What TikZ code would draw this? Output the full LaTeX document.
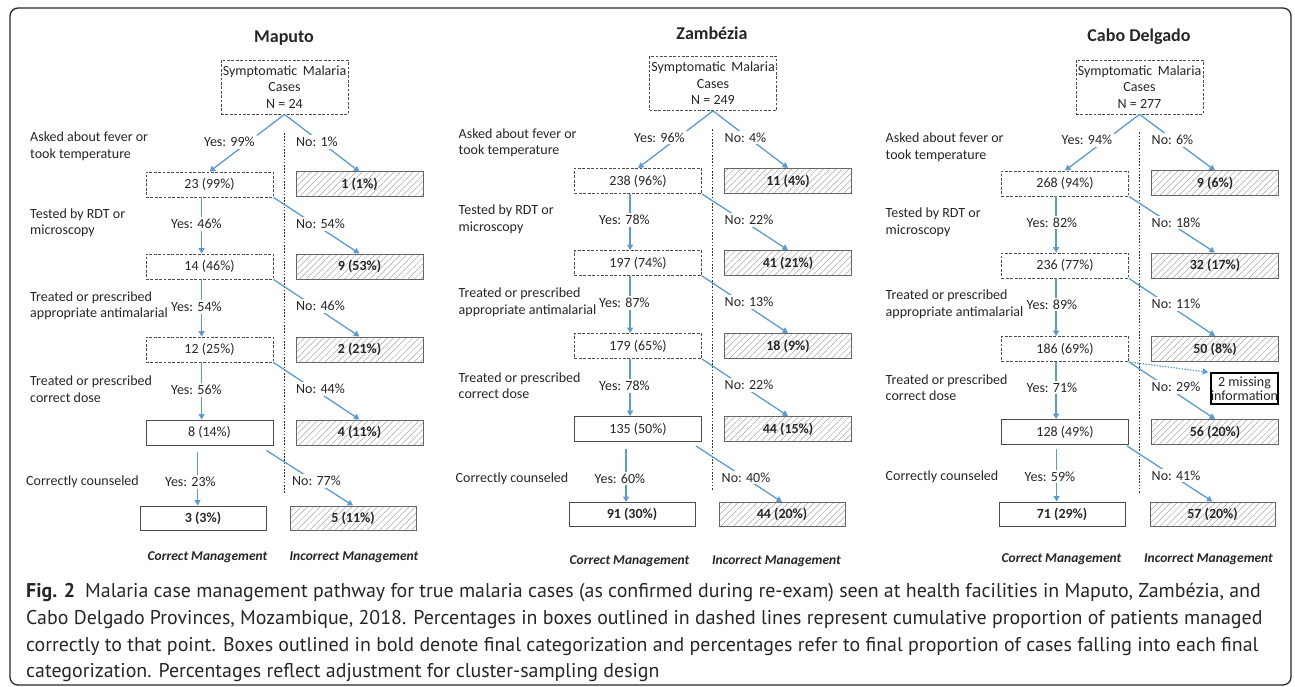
\documentclass[tikz,border=0pt]{standalone}
\usepackage{fontspec}
\setmainfont{Carlito}
\newfontfamily\capfont{PT Sans}
\usetikzlibrary{arrows.meta,patterns.meta}
\definecolor{arrblue}{RGB}{91,155,213}
\begin{document}
\begin{tikzpicture}[x=1pt,y=-1pt,
  every node/.style={inner sep=0pt, text=black!85, font=\fontsize{14}{16.5}\selectfont},
  arr/.style={draw=arrblue, line width=1.3pt, -{Triangle[length=5.5pt,width=6pt]}},
  dotarr/.style={draw=arrblue, line width=1.2pt, dash pattern=on 1.4pt off 1.4pt, -{Triangle[length=5.5pt,width=6pt]}},
  sepline/.style={draw=black!80, line width=0.8pt, dash pattern=on 1.6pt off 1.6pt},
  dbox/.style={draw=black!70, line width=0.8pt, dash pattern=on 2.8pt off 1.6pt, minimum width=127pt, minimum height=25pt},
  sbox/.style={draw=black!70, line width=0.9pt, minimum width=127pt, minimum height=25pt},
  hbox/.style={draw=black!60, line width=1pt, minimum width=127pt, minimum height=25pt,
     pattern={Lines[angle=45,distance=4.5pt,line width=0.5pt]}, pattern color=black!35,
     font=\fontsize{14}{16.5}\selectfont\bfseries},
  finbox/.style={draw=black!70, line width=1pt, minimum width=126pt, minimum height=24pt,
     font=\fontsize{14}{16.5}\selectfont\bfseries},
  missbox/.style={draw=black, line width=1.5pt, minimum width=65pt, minimum height=31pt, align=center, font=\fontsize{14}{14.5}\selectfont},
  lab/.style={fill=white, inner sep=2pt, anchor=west},
  qlab/.style={anchor=west, align=left},
  ttl/.style={font=\fontsize{18}{21}\selectfont\bfseries},
  foot/.style={font=\fontsize{13.5}{15}\selectfont\bfseries\itshape},
  topbox/.style={dbox, minimum height=54pt, align=center},
  capline/.style={anchor=base west, text=black!85, font=\capfont\fontsize{19.9}{22}\selectfont},
]
\useasboundingbox (0,0) rectangle (1295,687);
\draw[black!85, line width=1.3pt, rounded corners=8pt] (10,8) rectangle (1291,685);

% ---------------- Maputo ----------------
\begin{scope}
\node[ttl] (m-title) at (284,38) {Maputo};
\node[topbox] (m-top) at (284.5,87) {Symptomatic\hspace{0.4em}Malaria\\Cases\\N = 24};
\coordinate (m-sa) at (284,133); \coordinate (m-sb) at (284,493);
\draw[sepline] (m-sa) -- (m-sb);
\node[qlab] (m-q1) at (30,146.5) {Asked about fever or\\took temperature};
\node[dbox] (m-b1) at (209.5,184.5) {23 (99\%)};
\node[hbox] (m-n1) at (359.5,184.5) {1 (1\%)};
\node[qlab] (m-q2) at (30,223) {Tested by RDT or\\microscopy};
\node[dbox] (m-b2) at (209.5,266.5) {14 (46\%)};
\node[hbox] (m-n2) at (359.5,266.5) {9 (53\%)};
\node[qlab] (m-q3) at (30,306) {Treated or prescribed\\appropriate antimalarial};
\node[dbox] (m-b3) at (209.5,349.5) {12 (25\%)};
\node[hbox] (m-n3) at (359.5,349.5) {2 (21\%)};
\node[qlab] (m-q4) at (30,389) {Treated or prescribed\\correct dose};
\node[sbox] (m-b4) at (209.5,432.5) {8 (14\%)};
\node[hbox] (m-n4) at (359.5,432.5) {4 (11\%)};
\node[qlab] (m-q5) at (26,482) {Correctly counseled};
\node[finbox] (m-f1) at (203,518) {3 (3\%)};
\node[hbox, minimum width=126pt, minimum height=24pt] (m-f2) at (353,518) {5 (11\%)};
\node[foot] (m-c1) at (207.5,557) {Correct Management};
\node[foot] (m-c2) at (354,557) {Incorrect Management};
\draw[arr] (m-top.south) -- (m-b1.north);
\draw[arr] (m-top.south) -- (m-n1.north);
\coordinate (m-v2) at ([xshift=56pt]m-b1.south west);
\draw[arr] (m-v2) -- (m-v2 |- m-b2.north);
\draw[arr] (m-b1.south east) -- (m-n2.north);
\coordinate (m-v3) at ([xshift=56pt]m-b2.south west);
\draw[arr] (m-v3) -- (m-v3 |- m-b3.north);
\draw[arr] (m-b2.south east) -- (m-n3.north);
\coordinate (m-v4) at ([xshift=56pt]m-b3.south west);
\draw[arr] (m-v4) -- (m-v4 |- m-b4.north);
\draw[arr] (m-b3.south east) -- (m-n4.north);
\coordinate (m-v5) at ([xshift=52pt,yshift=-7pt]m-b4.south west);
\draw[arr] (m-v5) -- (m-v5 |- m-f1.north);
\coordinate (m-w5) at ([xshift=-7pt,yshift=-5pt]m-b4.south east);
\draw[arr] (m-w5) -- (m-f2.north);
\node[lab] (m-y1) at (202,142) {Yes: 99\%};
\node[lab] (m-x1) at (294,142) {No: 1\%};
\node[lab] (m-y2) at (169,224) {Yes: 46\%};
\node[lab] (m-x2) at (294,224) {No: 54\%};
\node[lab] (m-y3) at (169,307) {Yes: 54\%};
\node[lab] (m-x3) at (294,306) {No: 46\%};
\node[lab] (m-y4) at (169,390) {Yes: 56\%};
\node[lab] (m-x4) at (294,389) {No: 44\%};
\node[lab] (m-y5) at (163,482) {Yes: 23\%};
\node[lab] (m-x5) at (290,481) {No: 77\%};
\end{scope}

% ---------------- Zambezia ----------------
\begin{scope}[shift={(428.5,-3.5)}]
\node[ttl] (z-title) at (283.5,36.5) {Zambézia};
\node[topbox] (z-top) at (284.5,87) {Symptomatic\hspace{0.4em}Malaria\\Cases\\N = 249};
\coordinate (z-sa) at (284,133); \coordinate (z-sb) at (284,493.5);
\draw[sepline] (z-sa) -- (z-sb);
\node[qlab] (z-q1) at (30,146.5) {Asked about fever or\\took temperature};
\node[dbox] (z-b1) at (209.5,184.5) {238 (96\%)};
\node[hbox] (z-n1) at (359.5,184.5) {11 (4\%)};
\node[qlab] (z-q2) at (30,223) {Tested by RDT or\\microscopy};
\node[dbox] (z-b2) at (209.5,266.5) {197 (74\%)};
\node[hbox] (z-n2) at (359.5,266.5) {41 (21\%)};
\node[qlab] (z-q3) at (30,306) {Treated or prescribed\\appropriate antimalarial};
\node[dbox] (z-b3) at (209.5,349.5) {179 (65\%)};
\node[hbox] (z-n3) at (359.5,349.5) {18 (9\%)};
\node[qlab] (z-q4) at (30,389) {Treated or prescribed\\correct dose};
\node[sbox] (z-b4) at (209.5,432.5) {135 (50\%)};
\node[hbox] (z-n4) at (359.5,432.5) {44 (15\%)};
\node[qlab] (z-q5) at (27,482) {Correctly counseled};
\node[finbox] (z-f1) at (203.5,518) {91 (30\%)};
\node[hbox, minimum width=126pt, minimum height=24pt] (z-f2) at (353.5,518) {44 (20\%)};
\node[foot] (z-c1) at (201,564.5) {Correct Management};
\node[foot] (z-c2) at (348,564.5) {Incorrect Management};
\draw[arr] (z-top.south) -- (z-b1.north);
\draw[arr] (z-top.south) -- (z-n1.north);
\coordinate (z-v2) at ([xshift=56pt]z-b1.south west);
\draw[arr] (z-v2) -- (z-v2 |- z-b2.north);
\draw[arr] (z-b1.south east) -- (z-n2.north);
\coordinate (z-v3) at ([xshift=56pt]z-b2.south west);
\draw[arr] (z-v3) -- (z-v3 |- z-b3.north);
\draw[arr] (z-b2.south east) -- (z-n3.north);
\coordinate (z-v4) at ([xshift=56pt]z-b3.south west);
\draw[arr] (z-v4) -- (z-v4 |- z-b4.north);
\draw[arr] (z-b3.south east) -- (z-n4.north);
\coordinate (z-v5) at ([xshift=52pt,yshift=-7pt]z-b4.south west);
\draw[arr] (z-v5) -- (z-v5 |- z-f1.north);
\coordinate (z-w5) at ([xshift=-6pt,yshift=-4pt]z-b4.south east);
\draw[arr] (z-w5) -- (z-f2.north);
\node[lab] (z-y1) at (203.5,141) {Yes: 96\%};
\node[lab] (z-x1) at (294,141) {No: 4\%};
\node[lab] (z-y2) at (168.5,223.5) {Yes: 78\%};
\node[lab] (z-x2) at (294,223.5) {No: 22\%};
\node[lab] (z-y3) at (168.5,306.5) {Yes: 87\%};
\node[lab] (z-x3) at (294,305.5) {No: 13\%};
\node[lab] (z-y4) at (168.5,389.5) {Yes: 78\%};
\node[lab] (z-x4) at (294,388.5) {No: 22\%};
\node[lab] (z-y5) at (164,482) {Yes: 60\%};
\node[lab] (z-x5) at (291,481) {No: 40\%};
\end{scope}

% ---------------- Cabo Delgado ----------------
\begin{scope}[shift={(855.5,-0.5)}]
\node[ttl] (c-title) at (283.5,37.5) {Cabo Delgado};
\node[topbox] (c-top) at (284,87.5) {Symptomatic\hspace{0.4em}Malaria\\Cases\\N = 277};
\coordinate (c-sa) at (284,133); \coordinate (c-sb) at (284,493);
\draw[sepline] (c-sa) -- (c-sb);
\node[qlab] (c-q1) at (30,148) {Asked about fever or\\took temperature};
\node[dbox] (c-b1) at (209.5,184) {268 (94\%)};
\node[hbox] (c-n1) at (359.5,184) {9 (6\%)};
\node[qlab] (c-q2) at (30,223) {Tested by RDT or\\microscopy};
\node[dbox] (c-b2) at (209.5,266) {236 (77\%)};
\node[hbox] (c-n2) at (359.5,266) {32 (17\%)};
\node[qlab] (c-q3) at (30,305) {Treated or prescribed\\appropriate antimalarial};
\node[dbox] (c-b3) at (209.5,349.5) {186 (69\%)};
\node[hbox] (c-n3) at (359.5,349.5) {50 (8\%)};
\node[qlab] (c-q4) at (30,388) {Treated or prescribed\\correct dose};
\node[sbox] (c-b4) at (209.5,432.5) {128 (49\%)};
\node[hbox] (c-n4) at (359.5,432.5) {56 (20\%)};
\node[missbox] (c-miss) at (389,389) {2 missing\\information};
\node[qlab] (c-q5) at (30,477) {Correctly counseled};
\node[finbox] (c-f1) at (206.5,514.5) {71 (29\%)};
\node[hbox, minimum width=125pt, minimum height=24pt] (c-f2) at (357,514.5) {57 (20\%)};
\node[foot] (c-c1) at (206,559.5) {Correct Management};
\node[foot] (c-c2) at (353,559.5) {Incorrect Management};
\draw[arr] (c-top.south) -- (c-b1.north);
\draw[arr] (c-top.south) -- (c-n1.north);
\coordinate (c-v2) at ([xshift=55pt]c-b1.south west);
\draw[arr] (c-v2) -- (c-v2 |- c-b2.north);
\draw[arr] (c-b1.south east) -- (c-n2.north);
\coordinate (c-v3) at ([xshift=55pt]c-b2.south west);
\draw[arr] (c-v3) -- (c-v3 |- c-b3.north);
\draw[arr] (c-b2.south east) -- (c-n3.north);
\coordinate (c-v4) at ([xshift=55pt]c-b3.south west);
\draw[arr] (c-v4) -- (c-v4 |- c-b4.north);
\draw[arr] (c-b3.south east) -- (c-n4.north);
\draw[dotarr] (c-b3.south east) -- ([xshift=-2pt]c-miss.north west);
\coordinate (c-v5) at ([xshift=55.5pt,yshift=-4pt]c-b4.south west);
\draw[arr] (c-v5) -- (c-v5 |- c-f1.north);
\coordinate (c-w5) at ([xshift=-2pt,yshift=-1pt]c-b4.south east);
\draw[arr] (c-w5) -- (c-f2.north);
\node[lab] (c-y1) at (204,140.5) {Yes: 94\%};
\node[lab] (c-x1) at (294,140.5) {No: 6\%};
\node[lab] (c-y2) at (169,223) {Yes: 82\%};
\node[lab] (c-x2) at (294,223) {No: 18\%};
\node[lab] (c-y3) at (169,305) {Yes: 89\%};
\node[lab] (c-x3) at (294,304.5) {No: 11\%};
\node[lab] (c-y4) at (169,388) {Yes: 71\%};
\node[lab] (c-x4) at (294,387.5) {No: 29\%};
\node[lab] (c-y5) at (167,477) {Yes: 59\%};
\node[lab] (c-x5) at (294,476) {No: 41\%};
\end{scope}

% ---------------- caption ----------------
\node[capline] (cap1) at (26,597) {\textbf{Fig. 2}\hspace{0.5em}Malaria case management pathway for true malaria cases (as confirmed during re-exam) seen at health facilities in Maputo, Zambézia, and};
\node[capline] (cap2) at (26,624) {Cabo Delgado Provinces, Mozambique, 2018. Percentages in boxes outlined in dashed lines represent cumulative proportion of patients managed};
\node[capline] (cap3) at (26,651) {correctly to that point. Boxes outlined in bold denote final categorization and percentages refer to final proportion of cases falling into each final};
\node[capline] (cap4) at (26,677) {categorization. Percentages reflect adjustment for cluster-sampling design};
\end{tikzpicture}
\end{document}
